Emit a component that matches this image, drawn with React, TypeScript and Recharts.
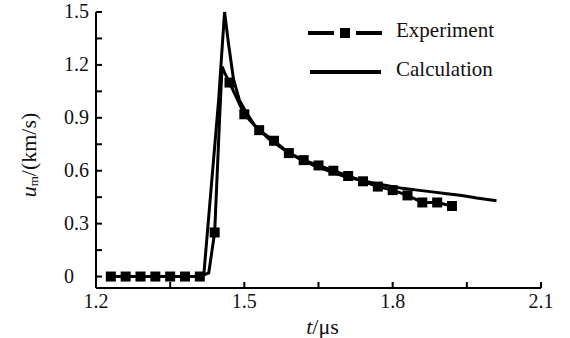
import {
  ComposedChart,
  Line,
  Scatter,
  XAxis,
  YAxis,
} from 'recharts';

// experiment markers, every 0.03 us
const markT = [1.23, 1.26, 1.29, 1.32, 1.35, 1.38, 1.41, 1.44, 1.47, 1.5, 1.53, 1.56, 1.59, 1.62, 1.65, 1.68, 1.71, 1.74, 1.77, 1.8, 1.83, 1.86, 1.89, 1.92];
const markU = [0, 0, 0, 0, 0, 0, 0, 0.25, 1.1, 0.92, 0.83, 0.77, 0.7, 0.66, 0.63, 0.6, 0.57, 0.54, 0.51, 0.49, 0.46, 0.42, 0.42, 0.4];

// extra points of the measured trace between markers (the spike)
const expPeakT = [1.428, 1.45, 1.455, 1.461];
const expPeakU = [0.02, 0.9, 1.19, 1.15];

const calcT = [1.23, 1.41, 1.418, 1.448, 1.46, 1.468, 1.478, 1.49, 1.502, 1.52, 1.55, 1.58, 1.61, 1.64, 1.67, 1.7, 1.73, 1.76, 1.79, 1.82, 1.85, 1.88, 1.91, 1.94, 1.97, 2.01];
const calcU = [0, 0, 0.01, 1.0, 1.5, 1.32, 1.12, 1.0, 0.94, 0.86, 0.78, 0.72, 0.67, 0.63, 0.6, 0.57, 0.55, 0.53, 0.515, 0.5, 0.49, 0.48, 0.47, 0.46, 0.445, 0.43];

const xTicks = [1.2, 1.35, 1.5, 1.65, 1.8, 1.95, 2.1];
const xLabels = ['1.2', '', '1.5', '', '1.8', '', '2.1'];
const yTicks = [0, 0.15, 0.3, 0.45, 0.6, 0.75, 0.9, 1.05, 1.2, 1.35, 1.5];
const yLabels = ['0', '', '0.3', '', '0.6', '', '0.9', '', '1.2', '', '1.5'];

const FONT = 'Liberation Serif, Times New Roman, serif';

const markData = markT.map((t, i) => ({ t, u: markU[i] }));
const expData = [...markData, ...expPeakT.map((t, i) => ({ t, u: expPeakU[i] }))].sort((a, b) => a.t - b.t);
const calcData = calcT.map((t, i) => ({ t, u: calcU[i] }));

const textStyle = { fontFamily: FONT, fontSize: 20, fill: '#111' };

function XTick({ x, y, payload }: any) {
  const label = xLabels[xTicks.indexOf(payload.value)];
  return (
    <g>
      <line x1={x} y1={y} x2={x} y2={y - 6} stroke="#000" strokeWidth={2} />
      {label && (
        <text x={x} y={y + 20} textAnchor="middle" style={textStyle}>
          {label}
        </text>
      )}
    </g>
  );
}

function YTick({ x, y, payload }: any) {
  const label = yLabels[yTicks.indexOf(payload.value)];
  return (
    <g>
      <line x1={x} y1={y} x2={x + 6} y2={y} stroke="#000" strokeWidth={2} />
      {label && (
        <text x={x - 32} y={y + 6} textAnchor="start" style={textStyle}>
          {label}
        </text>
      )}
    </g>
  );
}

function Square({ cx, cy }: any) {
  return <rect x={cx - 5} y={cy - 5} width={10} height={10} fill="#000" />;
}

function LegendBox() {
  const lt = { fontFamily: FONT, fontSize: 21, fill: '#111' };
  return (
    <svg
      width={240}
      height={90}
      style={{ position: 'absolute', left: 300, top: 0 }}
    >
      <line x1={8} y1={33} x2={34} y2={33} stroke="#000" strokeWidth={4} />
      <rect x={40} y={28} width={10} height={10} fill="#000" />
      <line x1={56} y1={33} x2={82} y2={33} stroke="#000" strokeWidth={4} />
      <text x={96} y={37} style={lt}>Experiment</text>
      <line x1={10} y1={72} x2={81} y2={72} stroke="#000" strokeWidth={4} />
      <text x={96} y={76} style={lt}>Calculation</text>
    </svg>
  );
}

export default function App() {
  return (
    <div style={{ position: 'absolute', left: 0, top: 0, width: 570, height: 338, background: '#fff' }}>
      <ComposedChart width={570} height={338} margin={{ top: 12, right: 29, left: 0, bottom: 0 }}>
        <XAxis
          xAxisId="b"
          dataKey="t"
          type="number"
          domain={[1.2, 2.1]}
          ticks={xTicks}
          tick={<XTick />}
          tickLine={false}
          tickSize={0}
          tickMargin={0}
          height={50}
          axisLine={{ stroke: '#000', strokeWidth: 2 }}
          label={{
            content: ({ viewBox }: any) => (
              <text
                x={viewBox.x + viewBox.width / 2 + 4}
                y={viewBox.y + 46}
                textAnchor="middle"
                style={{ ...textStyle, fontSize: 22 }}
              >
                <tspan fontStyle="italic">t</tspan>/μs
              </text>
            ),
          }}
        />
        <XAxis
          xAxisId="top"
          orientation="top"
          type="number"
          domain={[1.2, 2.1]}
          tick={false}
          tickLine={false}
          height={0}
          axisLine={{ stroke: '#000', strokeWidth: 2 }}
        />
        <YAxis
          yAxisId="l"
          type="number"
          domain={[-0.065, 1.5]}
          ticks={yTicks}
          tick={<YTick />}
          tickLine={false}
          tickSize={0}
          tickMargin={0}
          width={96}
          axisLine={{ stroke: '#000', strokeWidth: 2 }}
          label={{
            content: ({ viewBox }: any) => {
              const cx = viewBox.x + 28;
              const cy = viewBox.y + viewBox.height / 2 + 5;
              return (
                <text
                  x={cx}
                  y={cy}
                  transform={`rotate(-90, ${cx}, ${cy})`}
                  textAnchor="middle"
                  dominantBaseline="central"
                  style={{ ...textStyle, fontSize: 22 }}
                >
                  <tspan fontStyle="italic">u</tspan>
                  <tspan fontSize={13} dy={5}>m</tspan>
                  <tspan dy={-5}>/(km/s)</tspan>
                </text>
              );
            },
          }}
        />
        <YAxis
          yAxisId="r"
          orientation="right"
          type="number"
          domain={[-0.065, 1.5]}
          tick={false}
          tickLine={false}
          width={0}
          axisLine={{ stroke: '#000', strokeWidth: 2 }}
        />
        <Line
          xAxisId="b"
          yAxisId="l"
          data={calcData}
          dataKey="u"
          type="linear"
          stroke="#000"
          strokeWidth={3}
          dot={false}
          isAnimationActive={false}
        />
        <Line
          xAxisId="b"
          yAxisId="l"
          data={expData}
          dataKey="u"
          type="linear"
          stroke="#000"
          strokeWidth={3}
          dot={false}
          isAnimationActive={false}
        />
        <Scatter
          xAxisId="b"
          yAxisId="l"
          data={markData}
          dataKey="u"
          fill="#000"
          shape={<Square />}
          isAnimationActive={false}
        />
      </ComposedChart>
      <LegendBox />
    </div>
  );
}
